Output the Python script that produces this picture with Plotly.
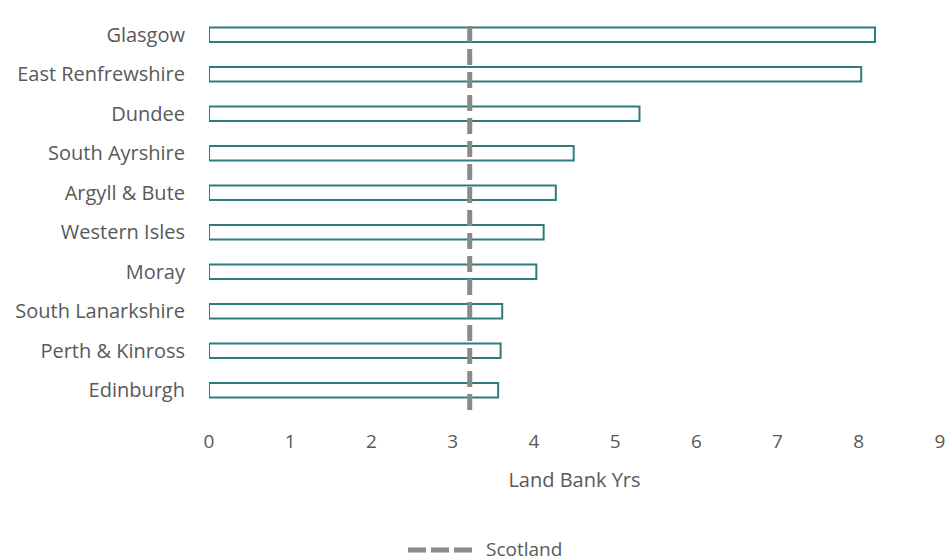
import plotly.graph_objects as go

regions = ["Glasgow", "East Renfrewshire", "Dundee", "South Ayrshire", "Argyll & Bute",
           "Western Isles", "Moray", "South Lanarkshire", "Perth & Kinross", "Edinburgh"]
land_bank_yrs = [8.20, 8.03, 5.30, 4.49, 4.27, 4.12, 4.03, 3.61, 3.59, 3.56]
scotland_value = 3.21
x_ticks = [0, 1, 2, 3, 4, 5, 6, 7, 8, 9]
legend_label = "Scotland"
x_title = "Land Bank Yrs"

FONT = "Open Sans"
TXT = "#595959"
GREY = "#8A8A8A"

W, H = 947, 557
L, R, T, B = 209, 7, 15, 147
PW, PH = W - L - R, H - T - B


def px_x(x):
    return (x - L) / PW


def px_y(y):
    return (H - B - y) / PH


fig = go.Figure()
fig.add_trace(go.Bar(
    y=regions, x=land_bank_yrs, orientation="h",
    marker=dict(color="white", line=dict(color="#2E7D7A", width=2)),
    width=0.37, showlegend=False, hoverinfo="x+y",
))
fig.add_trace(go.Scatter(
    x=[scotland_value, scotland_value], y=[0, 1], yaxis="y2",
    mode="lines", name=legend_label, showlegend=False,
    line=dict(color=GREY, width=5, dash="16px,7px"),
))

# manual legend (symbol longer than plotly's fixed legend glyph)
fig.add_shape(type="line", xref="paper", yref="paper",
              x0=px_x(408), x1=px_x(472), y0=px_y(550), y1=px_y(550),
              line=dict(color=GREY, width=5, dash="18px,5px"))
fig.add_annotation(text=legend_label, xref="paper", yref="paper",
                   x=px_x(484), y=px_y(549),
                   xanchor="left", yanchor="middle", showarrow=False,
                   font=dict(family=FONT, size=19, color=TXT))

fig.update_layout(
    width=W, height=H,
    margin=dict(l=L, r=R, t=T, b=B, autoexpand=False),
    plot_bgcolor="white", paper_bgcolor="white",
    font=dict(family=FONT, size=19, color=TXT),
    showlegend=False,
    xaxis=dict(range=[0, 9], tickvals=x_ticks, showgrid=False, zeroline=False,
               showline=False, ticks="", tickfont=dict(size=19, color=TXT),
               ticklabelstandoff=18, automargin=False,
               title=dict(text=x_title, font=dict(size=20, color=TXT), standoff=19)),
    yaxis=dict(categoryorder="array", categoryarray=regions[::-1],
               showgrid=False, zeroline=False, showline=False, ticks="",
               ticklabelstandoff=23, automargin=False,
               tickfont=dict(size=20, color=TXT)),
    yaxis2=dict(overlaying="y", range=[0, 1.02], visible=False, fixedrange=True),
    bargap=0.6,
)

fig.write_html(
    "out.html",
    config={"displayModeBar": False},
    post_script="document.body.style.margin='0';document.body.style.overflow='hidden';",
)
